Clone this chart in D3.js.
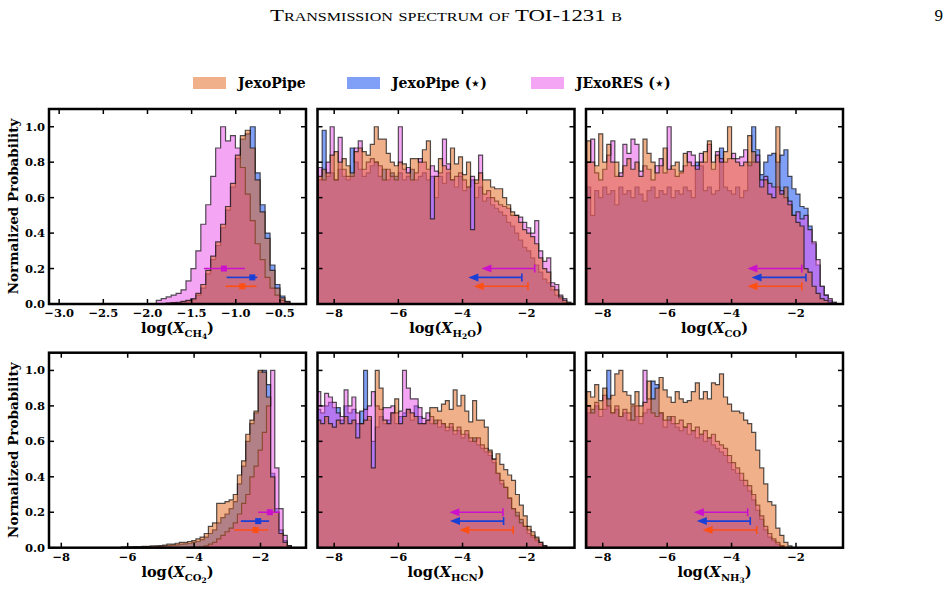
<!DOCTYPE html>
<html><head><meta charset="utf-8">
<script src="https://cdn.jsdelivr.net/npm/d3@7"></script>
<style>
body{margin:0;background:#fff}
text{font-family:"DejaVu Serif",serif;font-weight:bold;fill:#000}
</style></head>
<body><svg id="c" width="950" height="592"></svg>
<script>
// ---------------- DATA ----------------
const seriesNames = ["JexoPipe", "JexoPipe (\u22c6)", "JExoRES (\u22c6)"];
const yTicks = [0, 0.2, 0.4, 0.6, 0.8, 1.0];
const xTicksCH4 = [-3.0, -2.5, -2.0, -1.5, -1.0, -0.5];
const xTicksWide = [-8, -6, -4, -2];

const xDomains = { CH4:[-3.115,-0.205], H2O:[-8.52,-0.51], CO:[-8.52,-0.54],
                   CO2:[-8.37,-0.63], HCN:[-8.52,-0.51], NH3:[-8.52,-0.54] };
const binStart = { CH4:-1.90, H2O:-8.5, CO:-8.5, CO2:-6.195, HCN:-8.54, NH3:-8.5 };
const binWidth = { CH4:0.056, H2O:0.125, CO:0.125, CO2:0.125, HCN:0.1214, NH3:0.125 };

// CH4
const ch4Orange = [0,0,.005,.008,.01,.015,.02,.03,.06,.11,.19,.27,.35,.45,.55,.68,.84,.95,.98,.88,.70,.52,.37,.19,.09,.035,.012,0];
const ch4Blue   = [0,0,.004,.006,.008,.012,.018,.025,.05,.09,.17,.25,.33,.43,.53,.66,.82,.93,.96,1.0,.74,.56,.40,.22,.11,.045,.015,0];
const ch4Pink   = [.02,.03,.04,.05,.06,.08,.13,.2,.3,.45,.56,.72,.88,1.0,.92,.95,.88,.77,.62,.47,.34,.25,.15,.09,.05,.02,.01,0];
// H2O
const h2oOrange = [.72,.76,.74,.84,.86,.80,.82,.78,.74,.86,.88,.86,.84,.90,1.0,.93,.93,.85,.80,.78,.80,.79,.74,.82,.82,.80,.87,.92,.48,.72,.82,.78,.76,.88,.79,.83,.73,.80,.42,.70,.74,.70,.70,.66,.65,.65,.60,.56,.52,.50,.46,.42,.40,.38,.34,.26,.20,.18,.10,.08,.04,.02,.01,0];
const h2oBlue   = [.70,.98,.72,.74,.70,.76,.72,.70,.88,.80,.76,.72,.74,.78,.80,.72,.76,.70,.74,.72,.74,.70,.72,.76,.70,.72,.74,.70,.72,.60,.72,.68,.74,.70,.66,.72,.64,.66,.70,.60,.66,.58,.60,.56,.54,.52,.50,.46,.44,.40,.36,.32,.30,.26,.22,.18,.14,.12,.08,.05,.03,.01,0,0];
const h2oPink   = [.77,.70,.80,1.0,.70,.94,.76,.72,.72,.88,.92,.76,.80,.82,.80,.78,.70,.76,.72,.70,1.0,.76,.77,.70,.74,.82,.80,.76,.78,.75,.74,.93,.79,.70,.72,.74,.70,.66,.72,.68,.84,.62,.64,.60,.58,.56,.55,.54,.50,.50,.49,.46,.43,.40,.47,.30,.24,.26,.12,.11,.05,.03,.01,0];
// CO
const coOrange = [.92,.80,.78,.96,.80,.90,.80,.80,.72,.78,.82,.76,.80,.72,.93,.85,.80,.74,.78,.88,.76,.78,.80,.75,.85,.80,.78,.76,.80,.86,.92,.80,.84,.80,.86,1.0,.82,.80,.78,.80,.95,.86,.80,.66,.70,.62,.60,1.0,.62,.66,.56,.50,.46,.44,.20,.18,.10,.06,.03,.02,.01,0,0,0];
const coBlue   = [.66,.50,.64,.60,.66,.62,.64,.56,.66,.62,.64,.60,.66,.62,.58,.64,.66,.60,.64,.62,.66,.60,.64,.62,.66,.64,.60,.80,.78,.64,.66,.62,.64,.88,.66,.64,.62,.66,.60,.64,.80,1.0,.87,.73,.80,.84,.85,.80,.84,.87,.72,.65,.62,.55,.54,.44,.34,.22,.10,.05,.02,.01,0,0];
const coPink   = [.80,.93,.74,.70,.76,.84,.92,.72,.74,.90,.85,.93,.90,.75,.78,.76,.70,.78,.82,.74,1.0,.76,.72,.74,.78,.86,.84,.78,.85,.80,.90,.76,.86,.82,.80,.82,.85,.82,.83,.87,.78,.80,.84,.70,.72,.68,.66,.66,.64,.60,.58,.50,.52,.48,.50,.42,.35,.25,.10,.05,.03,.01,0,0];
// CO2
const co2Orange = [.004,.004,.005,.006,.006,.008,.008,.01,.01,.012,.015,.02,.02,.025,.03,.03,.035,.04,.05,.06,.08,.12,.14,.25,.25,.26,.27,.30,.41,.49,.64,.72,.77,1.0,.99,.85,.40,.20,.08,.03,.01,0,0];
const co2Blue   = [.002,.003,.003,.004,.004,.005,.006,.006,.007,.008,.01,.012,.014,.016,.02,.022,.025,.03,.035,.045,.06,.08,.10,.14,.17,.19,.22,.26,.36,.46,.60,.70,.76,.99,1.0,.92,.42,.22,.10,.04,.01,0,0];
const co2Pink   = [0,0,0,0,0,0,0,0,0,0,0,0,0,0,0,.001,.002,.003,.004,.005,.01,.02,.03,.05,.07,.09,.11,.14,.19,.25,.30,.40,.46,.55,.65,.80,1.0,.45,.22,.07,.01,0,0];
// HCN
const hcnOrange = [.72,.70,.74,.70,.68,.72,.70,.74,.70,.72,.62,.70,.72,.74,.45,1.0,.90,.72,.70,.76,.84,.70,.74,.78,.76,.74,.70,.70,.72,.79,.79,.77,.81,.83,.78,.89,.80,.86,.77,.71,.83,.72,.72,.68,.55,.50,.53,.47,.44,.41,.38,.30,.24,.18,.12,.09,.06,.03,.01,0,0,0,0,0,0,0];
const hcnBlue   = [.78,.76,.80,.82,.79,.79,.72,.80,.76,.78,.70,.77,1.0,.72,.60,.68,.74,.70,.72,.76,.70,.74,.76,.78,.72,.80,.74,.70,.72,.70,.72,.68,.70,.66,.68,.64,.66,.62,.64,.60,.62,.58,.56,.54,.52,.48,.42,.36,.34,.28,.22,.20,.16,.12,.08,.06,.04,.02,.01,0,0,0,0,0,0,0];
const hcnPink   = [.88,.80,.87,.85,.82,.76,.74,.89,.80,.85,.76,.70,.78,.80,.88,.80,.78,.79,.79,.80,.76,.77,1.0,.90,.84,.84,.79,.73,.76,.74,.70,.72,.70,.68,.70,.66,.68,.64,.66,.62,.60,.62,.58,.56,.54,.50,.42,.38,.34,.28,.22,.18,.14,.12,.10,.07,.05,.03,.01,0,0,0,0,0,0,0];
// NH3
const nh3Orange = [.88,.85,.92,.83,.90,.84,.86,.98,1.0,.88,.86,.81,.88,.80,.82,.94,.84,.90,.96,.89,.85,.82,.88,.84,.82,.83,.88,.93,.84,.88,.84,.93,.92,.98,.85,.81,.77,.77,.76,.72,.70,.65,.55,.45,.36,.26,.24,.11,.07,.03,.01,0,0,0,0,0,0,0,0,0,0,0,0,0];
const nh3Blue   = [.76,.78,.80,.74,.78,1.0,.76,.78,.74,.76,.72,.80,.74,.70,.76,.78,.94,.92,.76,.68,.74,.70,.68,.66,.68,.64,.66,.62,.64,.60,.62,.58,.56,.54,.52,.48,.44,.42,.38,.35,.32,.27,.21,.16,.10,.06,.04,.02,.01,0,0,0,0,0,0,0,0,0,0,0,0,0,0,0];
const nh3Pink   = [.80,.76,.82,.78,.86,.80,.76,.80,.74,.78,.76,.72,.80,.74,1.0,.84,.76,.74,.76,.72,.72,.74,.70,.72,.68,.70,.66,.68,.64,.66,.62,.64,.60,.58,.56,.52,.48,.45,.42,.38,.35,.30,.24,.18,.12,.08,.05,.03,.01,0,0,0,0,0,0,0,0,0,0,0,0,0,0,0];

// constraints: [median, low, high] in order orange, blue, pink
const ch4Err = [[-0.927,-1.116,-0.764],[-0.813,-1.104,-0.757],[-1.134,-1.361,-0.897]];
const co2Err = [[-2.15,-2.79,-1.77],[-2.07,-2.59,-1.74],[-1.72,-2.07,-1.42]];
// upper limits: [limit, arrow tip] in order orange, blue, pink
const h2oUL = [[-1.96,-3.65],[-2.15,-3.82],[-1.75,-3.41]];
const coUL  = [[-1.82,-3.51],[-1.69,-3.38],[-1.82,-3.51]];
const hcnUL = [[-2.42,-4.10],[-2.72,-4.39],[-2.74,-4.41]];
const nh3UL = [[-3.22,-4.90],[-3.42,-5.08],[-3.50,-5.17]];
const markerY = [0.10, 0.15, 0.20];

// ---------------- STYLE / LAYOUT ----------------
const fillCols = ["#e16115", "#0141f1", "#e94de9"];   // orange, blue, pink
const errCols  = ["#ff4f12", "#1a3fd6", "#cc11cc"];
const cols = [49, 317.5, 586], colW = 257;
const rows = [109, 352.7], rowH = 195;

const panels = [
  {k:"CH4", r:0, c:0, d:[ch4Orange,ch4Blue,ch4Pink], err:ch4Err, xt:xTicksCH4, f:".1f", lab:[["CH",1],["4",2]]},
  {k:"H2O", r:0, c:1, d:[h2oOrange,h2oBlue,h2oPink], ul:h2oUL, xt:xTicksWide, f:"d", lab:[["H",1],["2",2],["O",1]]},
  {k:"CO",  r:0, c:2, d:[coOrange,coBlue,coPink], ul:coUL, xt:xTicksWide, f:"d", lab:[["CO",1]]},
  {k:"CO2", r:1, c:0, d:[co2Orange,co2Blue,co2Pink], err:co2Err, xt:xTicksWide, f:"d", lab:[["CO",1],["2",2]]},
  {k:"HCN", r:1, c:1, d:[hcnOrange,hcnBlue,hcnPink], ul:hcnUL, xt:xTicksWide, f:"d", lab:[["HCN",1]]},
  {k:"NH3", r:1, c:2, d:[nh3Orange,nh3Blue,nh3Pink], ul:nh3UL, xt:xTicksWide, f:"d", lab:[["NH",1],["3",2]]}
];

const svg = d3.select("#c");

// header
svg.append("text").attr("x",270).attr("y",21)
  .style("font-family","'Liberation Serif',serif").style("font-weight","normal")
  .style("font-variant","small-caps").style("font-size","17px")
  .attr("textLength",352).attr("lengthAdjust","spacingAndGlyphs")
  .text("Transmission spectrum of TOI-1231 b");
svg.append("text").attr("x",943).attr("y",21).attr("text-anchor","end")
  .style("font-family","'Liberation Serif',serif").style("font-weight","normal")
  .style("font-size","17px").text("9");

// legend
const legX = [193, 347, 531];
seriesNames.forEach((n,i)=>{
  svg.append("rect").attr("x",legX[i]).attr("y",77).attr("width",33).attr("height",12)
    .attr("fill",fillCols[i]).attr("fill-opacity",0.5);
  svg.append("text").attr("x",legX[i]+45).attr("y",88).style("font-size","14px").text(n);
});

const drawOrder = [1, 2, 0]; // blue, pink, orange

panels.forEach((p,pi)=>{
  const X0 = cols[p.c], Y0 = rows[p.r];
  const g = svg.append("g").attr("transform",`translate(${X0},${Y0})`);
  const x = d3.scaleLinear().domain(xDomains[p.k]).range([0,colW]);
  const y = d3.scaleLinear().domain([0,1.1]).range([rowH,0]);
  const cid = "clip"+pi;
  g.append("clipPath").attr("id",cid).append("rect").attr("width",colW).attr("height",rowH);
  const pg = g.append("g").attr("clip-path",`url(#${cid})`);
  const s0 = binStart[p.k], w = binWidth[p.k];
  const area = d3.area().x(d=>x(d[0])).y0(y(0)).y1(d=>y(d[1])).curve(d3.curveStepAfter);
  drawOrder.forEach(si=>{
    const vals = p.d[si];
    const pts = vals.map((v,i)=>[s0+i*w, v]);
    pts.push([s0+vals.length*w, vals[vals.length-1]]);
    pg.append("path").attr("d",area(pts))
      .attr("fill",fillCols[si]).attr("fill-opacity",0.5)
      .attr("stroke","#111").attr("stroke-opacity",0.72).attr("stroke-width",1.2)
      .attr("stroke-linejoin","miter");
  });
  // constraints
  if (p.err) {
    p.err.forEach((e,si)=>{
      const yy = y(markerY[si]);
      pg.append("line").attr("x1",x(e[1])).attr("x2",x(e[2])).attr("y1",yy).attr("y2",yy)
        .attr("stroke",errCols[si]).attr("stroke-width",1.6);
      pg.append("rect").attr("x",x(e[0])-3).attr("y",yy-3).attr("width",6).attr("height",6)
        .attr("fill",errCols[si]);
    });
  }
  if (p.ul) {
    p.ul.forEach((e,si)=>{
      const yy = y(markerY[si]), xl = x(e[0]), xt = x(e[1]);
      pg.append("line").attr("x1",xt+6).attr("x2",xl).attr("y1",yy).attr("y2",yy)
        .attr("stroke",errCols[si]).attr("stroke-width",1.6);
      pg.append("line").attr("x1",xl).attr("x2",xl).attr("y1",yy-4).attr("y2",yy+4)
        .attr("stroke",errCols[si]).attr("stroke-width",1.6);
      pg.append("path").attr("d",`M${xt},${yy}L${xt+10},${yy-4}L${xt+10},${yy+4}Z`)
        .attr("fill",errCols[si]);
    });
  }
  // ticks (inward, all sides)
  const tk = 5;
  p.xt.forEach(t=>{
    const xx = x(t);
    g.append("line").attr("x1",xx).attr("x2",xx).attr("y1",rowH).attr("y2",rowH-tk).attr("stroke","#000").attr("stroke-width",1.5);
    g.append("line").attr("x1",xx).attr("x2",xx).attr("y1",0).attr("y2",tk).attr("stroke","#000").attr("stroke-width",1.5);
    g.append("text").attr("x",xx).attr("y",rowH+13).attr("text-anchor","middle")
      .style("font-size","11.5px").text(d3.format(p.f)(t));
  });
  yTicks.forEach(t=>{
    const yy = y(t);
    g.append("line").attr("x1",0).attr("x2",tk).attr("y1",yy).attr("y2",yy).attr("stroke","#000").attr("stroke-width",1.5);
    g.append("line").attr("x1",colW).attr("x2",colW-tk).attr("y1",yy).attr("y2",yy).attr("stroke","#000").attr("stroke-width",1.5);
    if (p.c===0) g.append("text").attr("x",-4).attr("y",yy+4).attr("text-anchor","end")
      .style("font-size","11.5px").text(d3.format(".1f")(t));
  });
  // frame
  g.append("rect").attr("width",colW).attr("height",rowH).attr("fill","none")
    .attr("stroke","#000").attr("stroke-width",2.5);
  // x label
  const xl = g.append("text").attr("x",colW/2).attr("y",rowH+29).attr("text-anchor","middle").style("font-size","14.5px");
  xl.append("tspan").text("log(");
  xl.append("tspan").style("font-style","italic").text("X");
  let cur = 0;
  p.lab.forEach(([s,lev])=>{
    const target = lev===1 ? 4 : 6;
    const fs = lev===1 ? 10 : 7.5;
    xl.append("tspan").attr("dy",target-cur).style("font-size",fs+"px").text(s);
    cur = target;
  });
  xl.append("tspan").attr("dy",-cur).text(")");
  // y label
  if (p.c===0) {
    svg.append("text").attr("transform",`translate(18,${Y0+rowH/2}) rotate(-90)`)
      .attr("text-anchor","middle").style("font-size","13.5px").text("Normalized Probability");
  }
});
</script></body></html>
